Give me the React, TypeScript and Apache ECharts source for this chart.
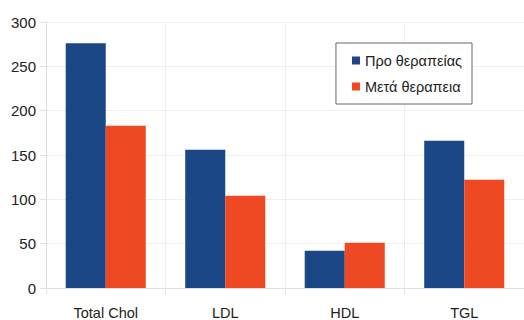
import React, { useEffect, useRef } from "react";
import * as echarts from "echarts";

const categories = ["Total Chol", "LDL", "HDL", "TGL"];
const beforeValues = [276, 156, 42, 166];
const afterValues = [183, 104, 51, 122];
const seriesNames = ["Προ θεραπείας", "Μετά θεραπεια"];
const yTicks = [0, 50, 100, 150, 200, 250, 300];

export default function App() {
  const ref = useRef<HTMLDivElement>(null);
  useEffect(() => {
    const chart = echarts.init(ref.current!, null, { renderer: "svg" });
    const font = "'Liberation Sans Narrow', 'Liberation Sans', Arial, sans-serif";
    chart.setOption({
      animation: false,
      backgroundColor: "#ffffff",
      grid: { left: 46, right: -3, top: 22, bottom: 32, containLabel: false },
      legend: {
        show: true,
        right: 52,
        top: 43,
        orient: "vertical",
        itemWidth: 8,
        itemHeight: 8,
        itemGap: 11,
        padding: [10, 10, 10, 16],
        borderColor: "#666",
        borderWidth: 1,
        backgroundColor: "#fff",
        textStyle: { fontFamily: font, fontSize: 14.5, color: "#222" },
        data: seriesNames.map((n) => ({ name: n, icon: "rect" })),
      },
      xAxis: {
        type: "category",
        data: categories,
        axisLine: { show: true, lineStyle: { color: "#e0e0e0" } },
        axisTick: { show: true, length: 6, lineStyle: { color: "#e0e0e0" } },
        axisLabel: { fontFamily: font, fontSize: 14.5, color: "#222", margin: 17 },
        splitLine: { show: true, lineStyle: { color: "#eeeeee" } },
      },
      yAxis: {
        type: "value",
        min: 0,
        max: 300,
        interval: 50,
        axisLine: { show: true, lineStyle: { color: "#e0e0e0" } },
        axisTick: { show: true, length: 6, lineStyle: { color: "#e0e0e0" } },
        axisLabel: {
          fontFamily: font,
          fontSize: 15,
          color: "#222",
          margin: 10,
          formatter: (v: number) => (yTicks.includes(v) ? String(v) : ""),
        },
        splitLine: { show: true, lineStyle: { color: "#eeeeee" } },
      },
      series: [
        {
          name: seriesNames[0],
          type: "bar",
          data: beforeValues,
          itemStyle: { color: "#1b4787" },
          barGap: "0%",
          barCategoryGap: "33%",
        },
        {
          name: seriesNames[1],
          type: "bar",
          data: afterValues,
          itemStyle: { color: "#ef4923" },
          barGap: "0%",
          barCategoryGap: "33%",
        },
      ],
    });
    return () => chart.dispose();
  }, []);
  return (
    <div
      ref={ref}
      style={{ position: "absolute", left: 0, top: 0, width: 524, height: 320 }}
    />
  );
}
